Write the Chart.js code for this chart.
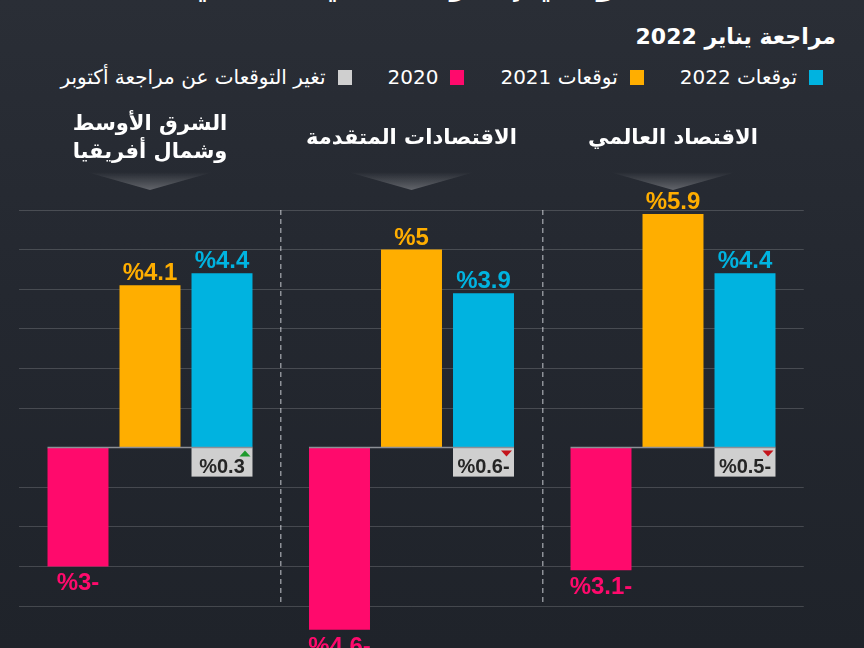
<!DOCTYPE html>
<html lang="ar">
<head>
<meta charset="utf-8">
<script src="https://cdn.jsdelivr.net/npm/chart.js@4.4.1/dist/chart.umd.min.js"></script>
<style>
  body {
    margin: 0;
    width: 864px;
    height: 648px;
    overflow: hidden;
    position: relative;
    color: #fff;
    font-family: "DejaVu Sans", sans-serif;
    background: linear-gradient(to bottom, #2a2e36 0%, #242830 45%, #1f232a 100%);
  }
  #wrap { position: absolute; left: 0; top: 0; width: 864px; height: 648px; }
  .title {
    position: absolute; top: -34px; left: 0; width: 864px;
    text-align: center; font-weight: bold; font-size: 32px; line-height: 34px;
    direction: rtl; white-space: nowrap;
  }
  .subtitle {
    position: absolute; top: 24px; right: 28px;
    font-weight: bold; font-size: 22px; direction: rtl;
  }
  #legend {
    position: absolute; top: 65px; right: 41px;
    display: flex; direction: rtl; align-items: center; font-size: 20px;
  }
  .item { display: flex; align-items: center; margin-left: 36px; white-space: nowrap; }
  .sq { width: 14px; height: 15px; margin-left: 12px; }
  .heading {
    position: absolute; top: 137px; transform: translate(-50%, -50%);
    text-align: center; font-weight: bold; font-size: 21px; line-height: 28px;
    direction: rtl; white-space: nowrap;
  }
  .tri {
    position: absolute; top: 172px; width: 127px; height: 18px;
    transform: translateX(-50%);
    clip-path: polygon(0 0, 100% 0, 50% 100%);
    background: linear-gradient(to bottom, rgba(255,255,255,0), rgba(255,255,255,0.28));
  }
</style>
</head>
<body>
<div class="title">النمو في إطار التعافي العالمي</div>
<div class="subtitle">مراجعة يناير 2022</div>
<div id="legend"></div>
<div id="wrap"><canvas id="chart"></canvas></div>
<script>
// Groups, left to right as in the picture
const headings = [["الشرق الأوسط", "وشمال أفريقيا"], ["الاقتصادات المتقدمة"], ["الاقتصاد العالمي"]];
// Growth, percent
const actual2020 = [-3, -4.6, -3.1];
const forecast2021 = [4.1, 5, 5.9];
const forecast2022 = [4.4, 3.9, 4.4];
// change of the 2022 forecast since the October review
const changeSinceOctober = [0.3, -0.6, -0.5];

const seriesLabels = ["2020", "توقعات 2021", "توقعات 2022"];
const seriesColors = ["#ff0a6c", "#ffae00", "#00b3e0"];
const legendLabels = ["توقعات 2022", "توقعات 2021", "2020", "تغير التوقعات عن مراجعة أكتوبر"];
const legendColors = ["#00b3e0", "#ffae00", "#ff0a6c", "#cfcfcf"];

// "%5.9" and "%3.1-" as they are written in the picture
function pct(v) {
  return "%" + Math.abs(v) + (v < 0 ? "-" : "");
}

// legend row (html, so it can hold the extra grey item)
const legendEl = document.getElementById("legend");
legendLabels.forEach((label, i) => {
  const item = document.createElement("div");
  item.className = "item";
  const sq = document.createElement("div");
  sq.className = "sq";
  sq.style.background = legendColors[i];
  const txt = document.createElement("span");
  txt.textContent = label;
  item.appendChild(sq);
  item.appendChild(txt);
  legendEl.appendChild(item);
});

// value labels, zero line and the grey change boxes
const barLabels = {
  id: "barLabels",
  afterDatasetsDraw(chart) {
    const ctx = chart.ctx;
    const y0 = chart.scales.y.getPixelForValue(0);
    const firstBars = chart.getDatasetMeta(0).data;
    const lastBars = chart.getDatasetMeta(2).data;
    ctx.save();

    // change boxes under the 2022 bars
    lastBars.forEach((bar, i) => {
      const l = bar.x - bar.width / 2;
      const r = bar.x + bar.width / 2;
      ctx.fillStyle = "#cfcfcf";
      ctx.fillRect(l, y0, bar.width, 29);
      ctx.fillStyle = "#252525";
      ctx.font = 'bold 20px "Liberation Sans", Arial, sans-serif';
      ctx.textAlign = "center";
      ctx.textBaseline = "alphabetic";
      ctx.fillText(pct(changeSinceOctober[i]), bar.x, y0 + 25);
      // little arrow in the corner
      const up = changeSinceOctober[i] >= 0;
      ctx.fillStyle = up ? "#1e9a2c" : "#c4141b";
      ctx.beginPath();
      if (up) {
        ctx.moveTo(r - 13, y0 + 9);
        ctx.lineTo(r - 2, y0 + 9);
        ctx.lineTo(r - 7.5, y0 + 3);
      } else {
        ctx.moveTo(r - 13, y0 + 3);
        ctx.lineTo(r - 2, y0 + 3);
        ctx.lineTo(r - 7.5, y0 + 9);
      }
      ctx.closePath();
      ctx.fill();
    });

    // zero line under each group only
    ctx.strokeStyle = "#8d9096";
    ctx.lineWidth = 1.5;
    firstBars.forEach((bar, i) => {
      ctx.beginPath();
      ctx.moveTo(bar.x - bar.width / 2, y0);
      ctx.lineTo(lastBars[i].x + lastBars[i].width / 2, y0);
      ctx.stroke();
    });

    // the values
    ctx.font = 'bold 24px "Liberation Sans", Arial, sans-serif';
    ctx.textAlign = "center";
    ctx.textBaseline = "alphabetic";
    chart.data.datasets.forEach((ds, d) => {
      chart.getDatasetMeta(d).data.forEach((bar, i) => {
        const v = ds.data[i];
        ctx.fillStyle = ds.backgroundColor;
        if (v >= 0) {
          ctx.fillText(pct(v), bar.x, bar.y - 5);
        } else {
          ctx.fillText(pct(v), bar.x, bar.y + 24);
        }
      });
    });
    ctx.restore();
  },
};

const chart = new Chart(document.getElementById("chart"), {
  type: "bar",
  data: {
    labels: headings,
    datasets: [
      { label: seriesLabels[0], data: actual2020, backgroundColor: seriesColors[0] },
      { label: seriesLabels[1], data: forecast2021, backgroundColor: seriesColors[1] },
      { label: seriesLabels[2], data: forecast2022, backgroundColor: seriesColors[2] },
    ].map((ds) => ({
      ...ds,
      borderWidth: 0,
      barPercentage: 0.847,
      categoryPercentage: 0.826,
      clip: false,
    })),
  },
  options: {
    responsive: true,
    maintainAspectRatio: false,
    animation: false,
    events: [],
    layout: { padding: { top: 210, bottom: 42, left: 19.25, right: 60.25 } },
    plugins: { legend: { display: false }, tooltip: { enabled: false } },
    scales: {
      x: {
        ticks: { display: false },
        border: { display: false, dash: [5, 4] },
        grid: {
          offset: true,
          drawTicks: false,
          lineWidth: 1.5,
          color: (c) => (c.index === 1 || c.index === 2 ? "#8e9198" : "rgba(0,0,0,0)"),
        },
      },
      y: {
        min: -4,
        max: 6,
        ticks: { display: false, stepSize: 1 },
        border: { display: false },
        grid: {
          drawTicks: false,
          color: (c) => (c.tick && c.tick.value === 0 ? "rgba(0,0,0,0)" : "rgba(255,255,255,0.17)"),
        },
      },
    },
  },
  plugins: [barLabels],
});

// group headings and the small shaded arrows, placed on the x scale
const xScale = chart.scales.x;
headings.forEach((lines, i) => {
  const cx = xScale.getPixelForValue(i);
  const h = document.createElement("div");
  h.className = "heading";
  h.style.left = cx + "px";
  h.innerHTML = lines.join("<br>");
  document.body.appendChild(h);
  const t = document.createElement("div");
  t.className = "tri";
  t.style.left = cx + "px";
  document.body.appendChild(t);
});
</script>
</body>
</html>
